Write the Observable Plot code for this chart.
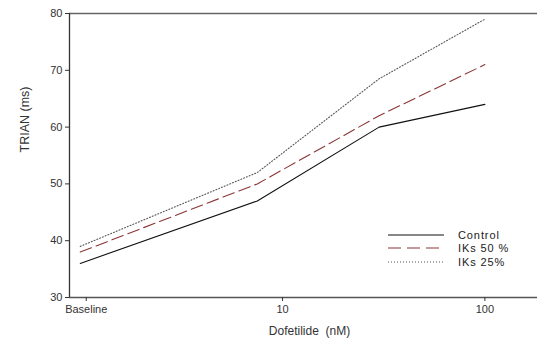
<!DOCTYPE html>
<html>
<head>
<meta charset="utf-8">
<script src="https://cdn.jsdelivr.net/npm/d3@7"></script>
<script src="https://cdn.jsdelivr.net/npm/@observablehq/plot@0.6"></script>
<style>
  html, body { margin: 0; padding: 0; background: #fff; }
  #wrap { position: relative; width: 537px; height: 347px; font-family: "Liberation Sans", Arial, sans-serif; }
  #legend { position: absolute; left: 388px; top: 228px; font-size: 11px; letter-spacing: 0.9px; color: #222; }
  #legend .row { display: flex; align-items: center; height: 13.5px; }
  #legend svg { width: 58px; height: 10px; margin-right: 12px; }
</style>
</head>
<body>
<div id="wrap"><div id="legend"></div></div>
<script>
// ---- data ----
const doses = [1, 7.5, 30, 100];          // 1 = Baseline
const seriesNames = ["Control", "IKs 50 %", "IKs 25%"];
const control = [36, 47, 60, 64];
const iks50 = [38, 50, 62, 71];
const iks25 = [39, 52, 68.5, 79];
const xTicks = [1, 10, 100];
const xTickLabels = ["Baseline", "10", "100"];
const yTicks = [30, 40, 50, 60, 70, 80];

// ---- styles ----
const styles = {
  "Control": {stroke: "#111", dash: null, width: 1.1},
  "IKs 50 %": {stroke: "#8b3535", dash: "12,5", width: 1.1},
  "IKs 25%": {stroke: "#555", dash: "1,2", width: 1.1}
};

const rows = [];
[control, iks50, iks25].forEach((vals, s) => {
  vals.forEach((v, i) => rows.push({series: seriesNames[s], dose: doses[i], value: v}));
});

const xDomain = [0.885, 182];
const yDomain = [30, 80];

const lines = seriesNames.map(name => Plot.line(rows.filter(d => d.series === name), {
  x: "dose", y: "value",
  stroke: styles[name].stroke,
  strokeWidth: styles[name].width,
  strokeDasharray: styles[name].dash
}));

const fmt = d => xTickLabels[xTicks.indexOf(d)];

const chart = Plot.plot({
  width: 537,
  height: 347,
  marginLeft: 69,
  marginRight: 0,
  marginTop: 13,
  marginBottom: 50,
  style: {fontFamily: "Liberation Sans, Arial, sans-serif", fontSize: "11px", color: "#333", background: "white"},
  x: {type: "log", domain: xDomain},
  y: {domain: yDomain},
  marks: [
    Plot.ruleY([yDomain[1]], {stroke: "#666", strokeWidth: 1.3}),
    Plot.ruleY([yDomain[0]], {stroke: "#555", strokeWidth: 1.3}),
    Plot.ruleX([xDomain[0]], {stroke: "#333", strokeWidth: 1.3}),
    Plot.axisY({ticks: yTicks, tickSize: 4, tickPadding: 3, label: null, tickFormat: d => d, fontSize: 11, style: {letterSpacing: "1.5px"}}),
    Plot.axisX({ticks: xTicks.slice(1), tickSize: 4, tickPadding: 4, label: null, tickFormat: fmt, style: {letterSpacing: "1px"}}),
    Plot.axisX({ticks: xTicks.slice(0, 1), tickSize: 4, tickPadding: 4, label: null, tickFormat: fmt, textAnchor: "middle", dx: 6, style: {letterSpacing: "0.6px"}}),
    ...lines,
    Plot.text(["TRIAN (ms)"], {frameAnchor: "left", dx: -45, dy: -3, rotate: -90, fontSize: 12.5, fill: "#333", style: {letterSpacing: "1.4px"}}),
    Plot.text(["Dofetilide  (nM)"], {frameAnchor: "bottom", dx: 6, dy: 37, fontSize: 12, fill: "#333", style: {letterSpacing: "2.6px", whiteSpace: "pre"}})
  ]
});
document.getElementById("wrap").prepend(chart);

// legend
const legend = document.getElementById("legend");
seriesNames.forEach(name => {
  const st = styles[name];
  const row = document.createElement("div");
  row.className = "row";
  row.innerHTML = `<svg viewBox="0 0 58 10"><line x1="0" x2="56" y1="5" y2="5" stroke="${st.stroke}" stroke-width="1.2" ${st.dash ? `stroke-dasharray="${name === "IKs 50 %" ? "13,6" : st.dash}"` : ""}/></svg><span>${name}</span>`;
  legend.appendChild(row);
});
</script>
</body>
</html>
